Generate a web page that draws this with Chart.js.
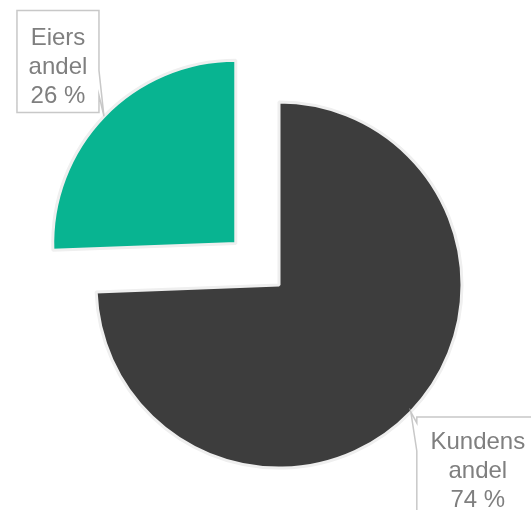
<!DOCTYPE html>
<html>
<head>
<meta charset="utf-8">
<script src="https://cdn.jsdelivr.net/npm/chart.js@4.4.0/dist/chart.umd.min.js"></script>
<style>
  html, body { margin: 0; padding: 0; background: #ffffff; }
  #wrap { width: 531px; height: 510px; position: relative; }
</style>
</head>
<body>
<div id="wrap"><canvas id="c" width="531" height="510"></canvas></div>
<script>
// ---- data ----
const categories = ['Kundens andel', 'Eiers andel'];
const shares = [74.4, 25.6];
const sliceColors = ['#3d3d3d', '#08b491'];

// ---- label callouts ----
const calloutPlugin = {
  id: 'callouts',
  afterDatasetsDraw(chart) {
    const ctx = chart.ctx;
    const meta = chart.getDatasetMeta(0);
    const total = shares.reduce((a, b) => a + b, 0);
    const boxes = [
      { dx: 6, dy: 5, w: 122, h: 104, side: 'left', wy1: 6, wy2: 34, base: 32 },
      { dx: -87, dy: -106, w: 82, h: 102, side: 'right', wy1: 60, wy2: 85, base: 35 }
    ];
    meta.data.forEach((arc, i) => {
      const p = arc.getProps(['x', 'y', 'startAngle', 'endAngle', 'outerRadius'], true);
      const mid = (p.startAngle + p.endAngle) / 2;
      const off = (arc.options.offset || 0) / 4;
      const tx = p.x + Math.cos(mid) * (off + p.outerRadius);
      const ty = p.y + Math.sin(mid) * (off + p.outerRadius);
      const b = boxes[i];
      const L = tx + b.dx, T = ty + b.dy, R = L + b.w, B = T + b.h;
      ctx.save();
      ctx.beginPath();
      if (b.side === 'right') {
        ctx.moveTo(L, T); ctx.lineTo(R, T); ctx.lineTo(R, T + b.wy1);
        ctx.lineTo(tx, ty); ctx.lineTo(R, T + b.wy2); ctx.lineTo(R, B);
        ctx.lineTo(L, B); ctx.closePath();
      } else {
        ctx.moveTo(L, T); ctx.lineTo(R, T); ctx.lineTo(R, B); ctx.lineTo(L, B);
        ctx.lineTo(L, T + b.wy2); ctx.lineTo(tx, ty); ctx.lineTo(L, T + b.wy1);
        ctx.closePath();
      }
      ctx.fillStyle = '#ffffff';
      ctx.fill();
      ctx.strokeStyle = '#c8c8c8';
      ctx.lineWidth = 1.5;
      ctx.stroke();
      const words = categories[i].split(' ');
      const lines = [...words, Math.round(shares[i] / total * 100) + ' %'];
      ctx.fillStyle = '#7f7f7f';
      ctx.font = '24px "Liberation Sans", Arial, sans-serif';
      ctx.textAlign = 'center';
      ctx.textBaseline = 'alphabetic';
      const cx = (L + R) / 2;
      lines.forEach((t, k) => ctx.fillText(t, cx, T + b.base + k * 29));
      ctx.restore();
    });
  }
};

new Chart(document.getElementById('c'), {
  type: 'pie',
  data: {
    labels: categories,
    datasets: [{
      data: shares,
      backgroundColor: sliceColors,
      borderColor: '#efefef',
      borderWidth: 3,
      offset: [0, 240],
      hoverOffset: 0
    }]
  },
  options: {
    responsive: false,
    animation: false,
    radius: 183,
    rotation: 0,
    layout: { padding: { left: 27, right: 0, top: 60, bottom: 0 } },
    plugins: {
      legend: { display: false },
      tooltip: { enabled: false }
    },
    events: []
  },
  plugins: [calloutPlugin]
});
</script>
</body>
</html>
